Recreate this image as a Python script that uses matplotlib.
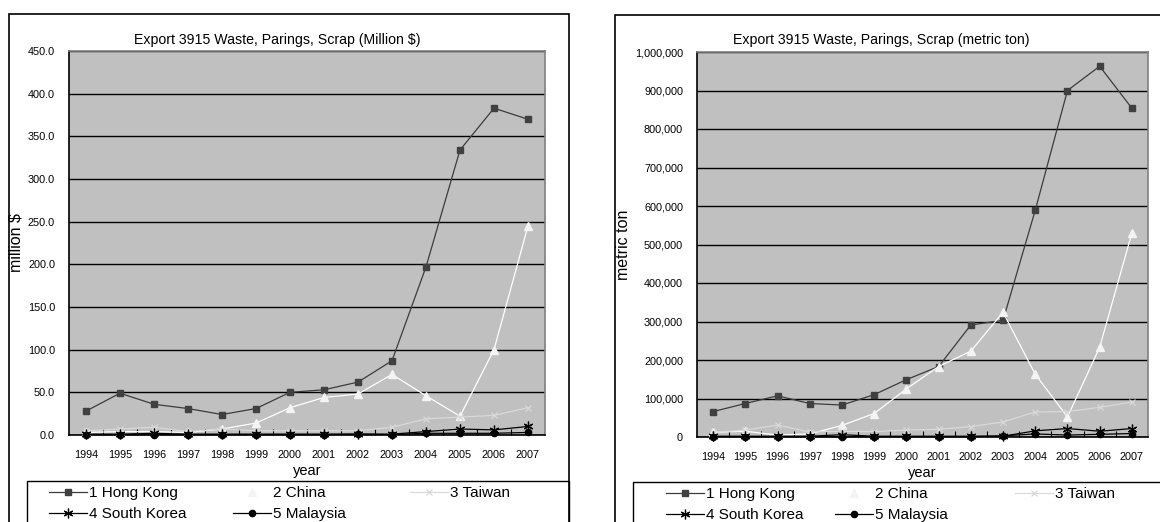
import matplotlib
matplotlib.use("Agg")
import matplotlib.pyplot as plt
from matplotlib.patches import Rectangle
from matplotlib.ticker import FuncFormatter, FixedLocator

plt.rcParams["font.family"] = ["Liberation Sans", "DejaVu Sans"]

years = ["1994", "1995", "1996", "1997", "1998", "1999", "2000",
         "2001", "2002", "2003", "2004", "2005", "2006", "2007"]
countries = ["1 Hong Kong", "2 China", "3 Taiwan", "4 South Korea", "5 Malaysia"]

# Export value, million $
usd_hong_kong = [28, 49, 36, 31, 24, 31, 50, 53, 62, 87, 197, 334, 383, 370]
usd_china = [3, 4, 4, 3, 7, 14, 32, 44, 48, 71, 46, 22, 100, 245]
usd_taiwan = [5, 7, 9, 4, 7, 5, 5, 5, 5, 9, 19, 21, 23, 32]
usd_south_korea = [1, 1, 2, 1, 1, 1, 1, 1, 1, 1, 4, 7, 6, 10]
usd_malaysia = [0.5, 0.5, 0.5, 0.5, 0.5, 0.5, 0.5, 0.5, 1, 0.5, 2, 2, 2, 3]

# Export volume, metric ton
ton_hong_kong = [66000, 87000, 107000, 87000, 83000, 110000, 149000,
                 183000, 291000, 303000, 589000, 900000, 963000, 854000]
ton_china = [12000, 15000, 5000, 8000, 30000, 61000, 125000,
             183000, 223000, 324000, 163000, 52000, 233000, 530000]
ton_taiwan = [12000, 18000, 31000, 13000, 15000, 14000, 18000,
              20000, 27000, 39000, 65000, 66000, 77000, 91000]
ton_south_korea = [2000, 2000, 2000, 2000, 6000, 2000, 2000,
                   2000, 2000, 2000, 16000, 22000, 15000, 22000]
ton_malaysia = [1000, 1000, 1000, 1000, 1000, 1000, 1000,
                1000, 1000, 3000, 8000, 5000, 7000, 9000]

W, H = 1160, 522
fig = plt.figure(figsize=(W / 100, H / 100), dpi=100)


def fx(px):
    return px / W


def fy(py):
    return 1 - py / H


styles = [
    dict(color="#3c3c3c", marker="s", markersize=5, markerfacecolor="#404040",
         markeredgecolor="#404040"),
    dict(color="#ffffff", marker="^", markersize=5.5, markerfacecolor="#f4f4f4",
         markeredgecolor="#f4f4f4"),
    dict(color="#d9d9d9", marker="x", markersize=5, markeredgewidth=0.9,
         markeredgecolor="#d9d9d9"),
    dict(color="#000000", marker=(6, 2, 0), markersize=7, markeredgewidth=0.9,
         markeredgecolor="#000000"),
    dict(color="#000000", marker="o", markersize=4.5, markerfacecolor="#000000",
         markeredgecolor="#000000"),
]


def panel(rect_px, border_px, series, ymax, ystep, fmt, title, ylabel,
          ylabel_x, legend_x, legend_cols):
    x0, y0, x1, y1 = rect_px
    # outer chart border
    bx0, by0, bx1, by1 = border_px
    fig.patches.append(Rectangle((fx(bx0), fy(by1)), fx(bx1 - bx0), (by1 - by0) / H,
                                 transform=fig.transFigure, fill=False,
                                 edgecolor="black", linewidth=1.2, zorder=0))
    ax = fig.add_axes([fx(x0), fy(y1), fx(x1 - x0), (y1 - y0) / H])
    ax.set_facecolor("#c0c0c0")
    lines = []
    xs = list(range(len(years)))
    for vals, st, name in zip(series, styles, countries):
        ln, = ax.plot(xs, vals, linewidth=0.9, label=name, zorder=3,
                      clip_on=False, **st)
        lines.append(ln)
    ax.set_xlim(-0.5, len(years) - 0.5)
    ax.set_ylim(0, ymax)
    ax.yaxis.set_major_locator(FixedLocator([i * ystep for i in range(int(ymax / ystep) + 1)]))
    ax.yaxis.set_major_formatter(FuncFormatter(fmt))
    ax.grid(axis="y", color="black", linewidth=1.0, zorder=1)
    ax.set_axisbelow(True)
    ax.set_xticks(xs)
    ax.set_xticklabels(years)
    ax.set_xticks([i + 0.5 for i in range(len(years) - 1)], minor=True)
    ax.tick_params(axis="x", which="major", length=0, pad=11, labelsize=7.8)
    ax.tick_params(axis="x", which="minor", length=4, direction="in",
                   color="black", width=0.8)
    ax.tick_params(axis="y", length=0, pad=10, labelsize=7.8)
    for side in ("top", "right"):
        ax.spines[side].set_color("#808080")
        ax.spines[side].set_linewidth(1.2)
    for side in ("left", "bottom"):
        ax.spines[side].set_color("black")
        ax.spines[side].set_linewidth(1.2)
    ax.set_xlabel("year", fontsize=10.5, labelpad=3)
    fig.text(fx((bx0 + bx1) / 2 - 12), fy(40), title, ha="center", va="center",
             fontsize=10.2)
    fig.text(fx(ylabel_x), fy((y0 + y1) / 2), ylabel, rotation=90,
             ha="center", va="center", fontsize=11.5)

    # legend box running past the bottom of the figure
    lx0, ly0, lx1 = legend_x
    fig.patches.append(Rectangle((fx(lx0), fy(H + 20)), fx(lx1 - lx0), (H + 20 - ly0) / H,
                                 transform=fig.transFigure, fill=False,
                                 edgecolor="black", linewidth=1.0, zorder=5))
    for col_x, idx in zip(legend_cols, [[0, 3], [1, 4], [2]]):
        fig.legend([lines[i] for i in idx], [countries[i] for i in idx],
                   loc="upper left", bbox_to_anchor=(fx(col_x), fy(ly0 + 5)),
                   frameon=False, fontsize=11, handlelength=2.5,
                   handletextpad=0.12, labelspacing=0.45, borderpad=0,
                   borderaxespad=0)
    return ax


panel((69, 51, 545, 435), (9, 14, 569, H + 20),
      [usd_hong_kong, usd_china, usd_taiwan, usd_south_korea, usd_malaysia],
      450, 50, lambda v, p: f"{v:.1f}",
      "Export 3915 Waste, Parings, Scrap (Million $)", "million $", 16,
      (27, 481, 569), [49, 233, 410])

panel((697, 52, 1148, 437), (615, 15, 1172, H + 20),
      [ton_hong_kong, ton_china, ton_taiwan, ton_south_korea, ton_malaysia],
      1000000, 100000, lambda v, p: f"{int(v):,}",
      "Export 3915 Waste, Parings, Scrap (metric ton)", "metric ton", 624,
      (633, 482, 1180), [666, 835, 1015])

fig.savefig("out.png", dpi=100)
